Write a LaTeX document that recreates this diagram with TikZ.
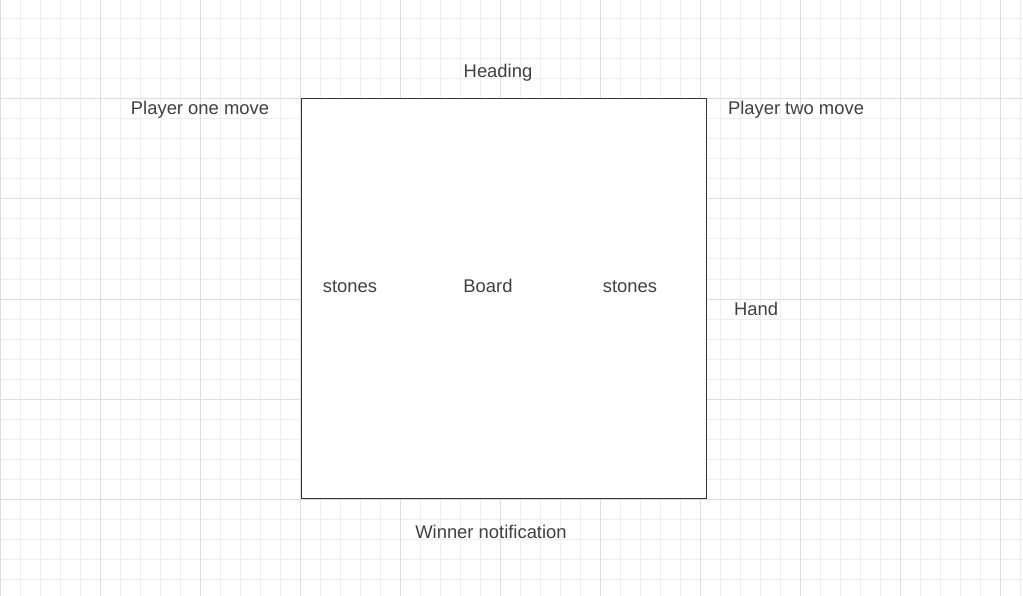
\documentclass[tikz,border=0pt]{standalone}
\usepackage{fontspec}
\setmainfont{Liberation Sans}
\definecolor{minorline}{HTML}{EEEEEE}
\definecolor{majorline}{HTML}{DDDDDD}
\definecolor{labeltext}{HTML}{404040}
\definecolor{frameline}{HTML}{333333}
\begin{document}
\begin{tikzpicture}[x=1pt,y=-1pt]
        \tikzset{lbl/.style = {text=labeltext, inner sep=0pt, anchor=base, font=\fontsize{18.4}{22}\selectfont}}
        \tikzset{frame/.style = {draw=frameline, fill=white, line width=1pt, inner sep=0pt}}

        \useasboundingbox (0,0) rectangle (1023,596);
        \fill[white] (0,0) rectangle (1023,596);
        \begin{scope}[yshift=1pt]
        \draw[minorline, line width=1pt, step=20pt] (0,0) grid (1023,600);
        \draw[majorline, line width=1pt, step=100pt] (0,0) grid (1023,600);
        \end{scope}

        \node[frame, minimum width=405pt, minimum height=399pt] (boardbox) at (503.5,298.5) {};

        \node[lbl] (heading) at (498,78) {Heading};
        \node[lbl] (p1move) at (200,115) {Player one move};
        \node[lbl] (p2move) at (796,115) {Player two move};

        \node[lbl] (stonesl) at (350,292) {stones};
        \node[lbl] (board) at (488,292) {Board};
        \node[lbl] (stonesr) at (630,292) {stones};

        \node[lbl] (hand) at (756,315) {Hand};
        \node[lbl] (winner) at (491,538) {Winner notification};

\end{tikzpicture}
\end{document}
